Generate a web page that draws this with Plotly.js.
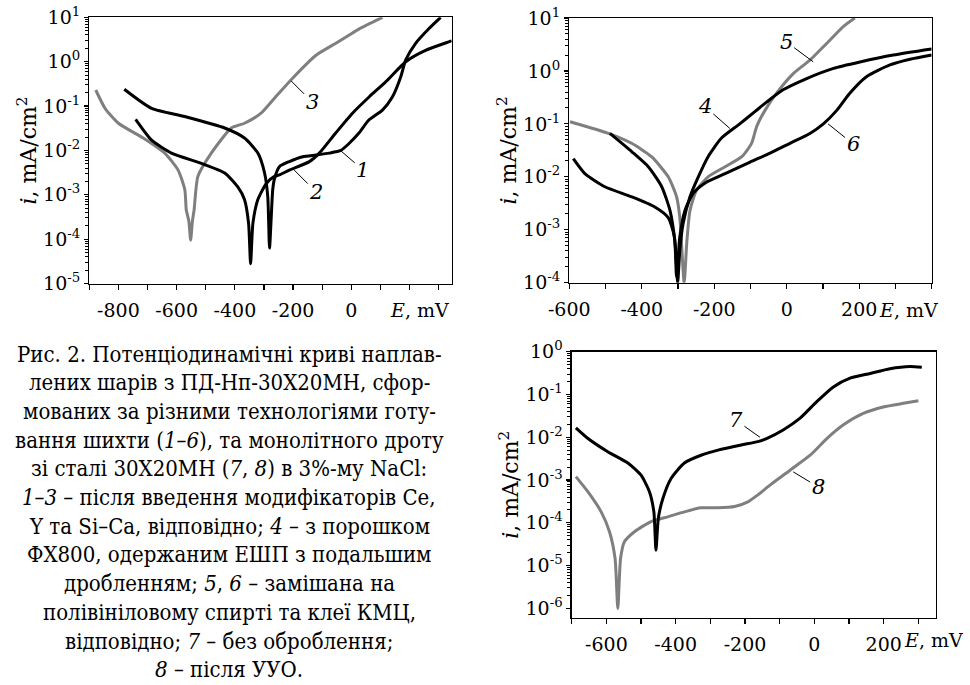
<!DOCTYPE html>
<html>
<head>
<meta charset="utf-8">
<script src="https://cdn.plot.ly/plotly-3.0.1.min.js"></script>
<style>html,body{margin:0;padding:0;background:#fff;}#chart{width:970px;height:685px;}</style>
</head>
<body>
<div id="chart"></div>
<script>
// ---------- DATA (E in mV, i in mA/cm2) ----------
// Panel A: curves 1-3
const E1 = [-780,-686,-572,-435,-367,-321,-298,-287,-281,-275,-270,-264,-247,-213,-167,-121,-76,-36,-7,27,61,107,141,170,187,221,267,307];
const I1 = [0.24,0.089,0.058,0.032,0.019,0.0087,0.0031,0.00091,0.000063,0.00032,0.0013,0.0023,0.0043,0.0056,0.0072,0.0079,0.0087,0.010,0.0145,0.025,0.049,0.081,0.16,0.46,1.1,2.6,5.6,10];
const E2 = [-741,-686,-618,-515,-435,-390,-367,-353,-346,-338,-321,-292,-264,-247,-213,-144,-110,-53,4,61,118,187,255,335,345];
const I2 = [0.05,0.017,0.0087,0.0051,0.0031,0.0015,0.00078,0.00023,0.000028,0.00023,0.00078,0.0018,0.0026,0.0028,0.0036,0.0056,0.0087,0.025,0.069,0.16,0.35,1.0,1.8,2.8,2.95];
const E3 = [-878,-846,-800,-715,-641,-595,-572,-567,-558,-552,-546,-540,-527,-481,-412,-367,-310,-264,-201,-121,-53,-7,27,107];
const I3 = [0.23,0.089,0.041,0.019,0.0087,0.0036,0.0013,0.00046,0.00025,0.000095,0.00025,0.00046,0.0026,0.0087,0.032,0.041,0.069,0.15,0.43,1.4,2.6,4.0,5.5,10];
// Panel B: curves 4-6
const E4 = [-488,-428,-382,-345,-322,-308,-301,-295,-286,-267,-244,-217,-180,-134,-88,-55,-10,55,129,202,294,400];
const I4 = [0.066,0.030,0.0155,0.0065,0.0023,0.00055,0.0001,0.00041,0.0013,0.0042,0.010,0.024,0.054,0.095,0.17,0.26,0.44,0.72,1.12,1.48,2.0,2.6];
const E5 = [-598,-488,-428,-373,-327,-304,-295,-283,-276,-267,-249,-217,-170,-124,-97,-83,-60,-28,18,64,110,156,188];
const I5 = [0.11,0.065,0.043,0.024,0.010,0.0042,0.0017,0.0001,0.00055,0.0023,0.0056,0.010,0.0155,0.024,0.043,0.089,0.18,0.38,0.89,1.6,3.3,6.9,10];
const E6 = [-589,-557,-502,-428,-364,-327,-310,-304,-295,-281,-258,-226,-170,-101,-46,9,64,101,138,174,220,285,340,400];
const I6 = [0.022,0.0115,0.0065,0.0042,0.0027,0.0017,0.00074,0.00013,0.00074,0.0023,0.0049,0.0076,0.0115,0.019,0.028,0.043,0.066,0.10,0.18,0.38,0.78,1.3,1.66,2.0];
// Panel C: curves 7-8
const E7 = [-688,-654,-596,-538,-500,-476,-463,-457,-450,-437,-413,-375,-327,-278,-211,-163,-138,-90,-42,7,55,103,161,218,276,310];
const I7 = [0.0166,0.0095,0.0046,0.0025,0.0013,0.00054,0.00018,0.000023,0.00013,0.00037,0.0011,0.0025,0.0038,0.0050,0.0066,0.0079,0.0093,0.0148,0.0275,0.068,0.15,0.24,0.31,0.40,0.45,0.43];
const E8 = [-688,-654,-615,-591,-575,-567,-559,-548,-519,-471,-423,-375,-327,-278,-230,-192,-163,-128,-70,-12,36,84,141,199,257,300];
const I8 = [0.0012,0.00054,0.00018,0.000062,0.0000148,0.000001,0.0000148,0.000036,0.000062,0.000107,0.000138,0.00018,0.000224,0.000224,0.00024,0.00031,0.00045,0.00076,0.0017,0.0038,0.0093,0.0195,0.036,0.051,0.062,0.071];

// curve labels (text, E and i where the leader touches the curve)
const labelText = ['1','2','3','4','5','6','7','8'];
const labelE = [-36,-196,-207,-157,73,114,-157,-61];
const labelI = [0.0098,0.0036,0.37,0.082,1.49,0.10,0.010,0.00155];

// tick labels
const xTicksA = [-800,-600,-400,-200,0];
const xTicksB = [-600,-400,-200,0,200];
const xTicksC = [-600,-400,-200,0,200];
const yExpA = [-5,-4,-3,-2,-1,0,1];
const yExpB = [-4,-3,-2,-1,0,1];
const yExpC = [-6,-5,-4,-3,-2,-1,0];

const captionLines = [
  'Рис. 2. Потенціодинамічні криві наплав-',
  'лених шарів з ПД-Нп-30Х20МН, сфор-',
  'мованих за різними технологіями готу-',
  'вання шихти (<i>1–6</i>), та монолітного дроту',
  'зі сталі 30Х20МН (<i>7</i>, <i>8</i>) в 3%-му NaCl:',
  '<i>1–3</i> – після введення модифікаторів Се,',
  'Y та Si–Ca, відповідно; <i>4</i> – з порошком',
  'ФХ800, одержаним ЕШП з подальшим',
  'дробленням; <i>5</i>, <i>6</i> – замішана на',
  'полівініловому спирті та клеї КМЦ,',
  'відповідно; <i>7</i> – без оброблення;',
  '<i>8</i> – після УУО.'
];

// ---------- STYLE ----------
const FONT = 'DejaVu Serif';
const FONT_CAP = 'DejaVu Serif Condensed, DejaVu Serif';
const BLACK = '#000000', GRAY = '#7f7f7f';
const TICK = 19;

function tr(E, I, color, xa, ya){
  return {x:E, y:I, xaxis:xa, yaxis:ya, type:'scatter', mode:'lines',
          line:{color:color, width:3, shape:'spline', smoothing:0.6}, hoverinfo:'skip'};
}
const data = [
  tr(E3,I3,GRAY,'x','y'), tr(E1,I1,BLACK,'x','y'), tr(E2,I2,BLACK,'x','y'),
  tr(E5,I5,GRAY,'x2','y2'), tr(E4,I4,BLACK,'x2','y2'), tr(E6,I6,BLACK,'x2','y2'),
  tr(E8,I8,GRAY,'x3','y3'), tr(E7,I7,BLACK,'x3','y3')
];

function minorLog(exps){
  const v=[]; for(const e of exps){ for(let k=2;k<=9;k++){ v.push(k*Math.pow(10,e)); } } return v;
}
function yAxis(domain, exps, range){
  return {type:'log', domain:domain, range:range,
    tickvals: exps.map(e=>Math.pow(10,e)),
    ticktext: exps.map(e=>'10<sup>'+e+'</sup>'),
    ticks:'outside', ticklen:4, tickwidth:1.2, tickcolor:BLACK,
    minor:{tickvals:minorLog(exps.slice(0,-1)), ticks:'outside', ticklen:3, tickwidth:1, tickcolor:BLACK},
    showline:true, linecolor:BLACK, linewidth:1.3, mirror:true, showgrid:false, zeroline:false,
    tickfont:{family:FONT,size:TICK,color:BLACK}, ticklabelstandoff:0,
    title:{text:'<i>i</i>, mA/cm<sup>2</sup>', font:{family:FONT,size:22,color:BLACK}, standoff:0},
    automargin:false, fixedrange:true};
}
function xAxis(domain, ticks, range){
  return {domain:domain, range:range, tickvals:ticks, ticktext:ticks.map(String),
    ticks:'outside', ticklen:5, tickwidth:1.2, tickcolor:BLACK,
    minor:{dtick:100, tick0:0, ticks:'outside', ticklen:5, tickwidth:1.2, tickcolor:BLACK},
    showline:true, linecolor:BLACK, linewidth:1.3, mirror:true, showgrid:false, zeroline:false,
    tickfont:{family:FONT,size:TICK,color:BLACK}, ticklabelstandoff:4,
    automargin:false, fixedrange:true};
}

const ax1 = xAxis([0.0921,0.4657], xTicksA, [-900,345]);  ax1.anchor='y';
const ax2 = xAxis([0.5869,0.9605], xTicksB, [-600,400]);  ax2.anchor='y2';
const ax3 = xAxis([0.5894,0.9646], xTicksC, [-700,350]);  ax3.anchor='y3';
const ay1 = yAxis([0.5861,0.9747], yExpA, [-5,1]);   ay1.anchor='x';
const ay2 = yAxis([0.5873,0.9737], yExpB, [-4,1]);   ay2.anchor='x2';
const ay3 = yAxis([0.0981,0.4866], yExpC, [-6.22,0]); ay3.anchor='x3';

const labelAxes = [['x','y'],['x','y'],['x','y'],['x2','y2'],['x2','y2'],['x2','y2'],['x3','y3'],['x3','y3']];
const labelOff = [[22,19],[22,22],[21,21],[-25,-22],[-27,-20],[25,20],[-24,-17],[25,15]];
const annotations = labelText.map((t,k)=>({
  xref:labelAxes[k][0], yref:labelAxes[k][1], x:labelE[k], y:Math.log10(labelI[k]),
  text:'<i>'+t+'</i>', showarrow:true, arrowhead:0, arrowwidth:1, arrowcolor:BLACK,
  ax:labelOff[k][0], ay:labelOff[k][1], standoff:0, startstandoff:0,
  font:{family:FONT,size:21,color:BLACK}
}));
// "E, mV" unit labels placed in the tick-label row
[[0.432,0.5474],[0.937,0.5474],[0.962,0.0657]].forEach(p=>annotations.push({
  xref:'paper', yref:'paper', x:p[0], y:p[1], xanchor:'center', yanchor:'middle',
  text:'<i>E</i>, mV', showarrow:false, font:{family:FONT,size:TICK,color:BLACK}
}));
// caption, one annotation per printed line
captionLines.forEach((s,k)=>annotations.push({
  xref:'paper', yref:'paper', x:229/970, y:1-(354+28.7*k)/685, xanchor:'center', yanchor:'middle',
  align:'center', showarrow:false, text:s, font:{family:FONT_CAP,size:22,color:BLACK}
}));

const layout = {
  width:970, height:685, margin:{l:0,r:0,t:0,b:0},
  paper_bgcolor:'#ffffff', plot_bgcolor:'#ffffff', showlegend:false,
  font:{family:FONT, size:20, color:BLACK},
  xaxis:ax1, yaxis:ay1, xaxis2:ax2, yaxis2:ay2, xaxis3:ax3, yaxis3:ay3,
  annotations:annotations
};
Plotly.newPlot('chart', data, layout, {staticPlot:true, displayModeBar:false});
</script>
</body>
</html>
